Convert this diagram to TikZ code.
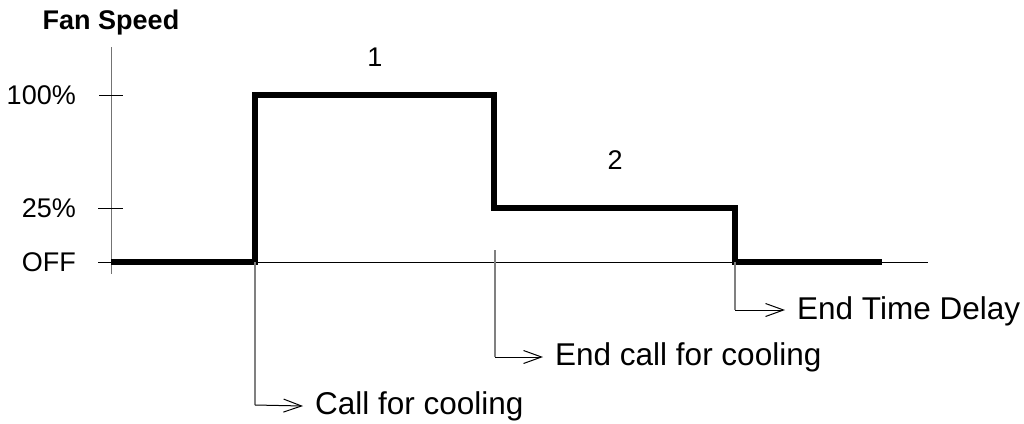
\documentclass[tikz,border=0pt]{standalone}
\usepackage{fontspec}
\setmainfont{Liberation Sans}
\usetikzlibrary{arrows.meta}
\begin{document}
\begin{tikzpicture}[x=1pt,y=-1pt,
  axisline/.style={line width=1pt,black!55},
  baseline/.style={line width=1pt,black},
  tickmark/.style={line width=1pt,black},
  speed/.style={line width=5.5pt,black,line join=miter},
  marker/.style={line width=1.3pt,black!50},
  pointer/.style={line width=1pt,black,-{Straight Barb[length=18pt,width=13pt,line width=1pt]}},
  lbl/.style={font=\fontsize{31.5}{36}\selectfont,anchor=west,inner sep=0pt},
  axlbl/.style={font=\fontsize{27}{32}\selectfont,anchor=east,inner sep=0pt},
  numlbl/.style={font=\fontsize{27}{32}\selectfont,inner sep=0pt}]
\useasboundingbox (0,0) rectangle (1024,423);
% axes
\coordinate (ytop) at (111,47);
\coordinate (ybot) at (111,274);
\coordinate (xl) at (98,262);
\coordinate (xr) at (928,262);
\draw[axisline] (ytop) -- (ybot);
\draw[baseline] (xl) -- (xr);
\coordinate (t1a) at (99,95);  \coordinate (t1b) at (123,95);
\coordinate (t2a) at (98,208); \coordinate (t2b) at (123,208);
\draw[tickmark] (t1a) -- (t1b);
\draw[tickmark] (t2a) -- (t2b);
% labels
\node[font=\bfseries\fontsize{27}{32}\selectfont,inner sep=0pt] (title) at (111,23) {Fan Speed};
\node[axlbl] (l100) at (76,95) {100\%};
\node[axlbl] (l25) at (76,208) {25\%};
\node[axlbl] (loff) at (76,262) {OFF};
\node[numlbl] (n1) at (375,57) {1};
\node[numlbl] (n2) at (615,160) {2};
% speed curve
\coordinate (s0) at (111,262);
\coordinate (s1) at (255,262);
\coordinate (s2) at (255,95);
\coordinate (s3) at (494,95);
\coordinate (s4) at (494,208);
\coordinate (s5) at (735,208);
\coordinate (s6) at (735,262);
\coordinate (s7) at (882,262);
\draw[speed] (s0) -- (s1) -- (s2) -- (s3) -- (s4) -- (s5) -- (s6) -- (s7);
% markers
\coordinate (m1top) at (255,262); \coordinate (m1) at (255,405);
\coordinate (m2top) at (495,250); \coordinate (m2) at (495,357);
\coordinate (m3top) at (735,262); \coordinate (m3) at (735,310);
\draw[marker] (m1top) -- (m1);
\draw[marker] (m2top) -- (m2);
\draw[marker] (m3top) -- (m3);
\node[lbl] (c1) at (315,406) {Call for cooling};
\node[lbl] (c2) at (555,357) {End call for cooling};
\node[lbl] (c3) at (797,311) {End Time Delay};
\draw[pointer] (m1) -- ([xshift=-12pt]c1.west);
\draw[pointer] (m2) -- ([xshift=-12pt]c2.west |- m2);
\draw[pointer] (m3) -- ([xshift=-12pt]c3.west |- m3);
\end{tikzpicture}
\end{document}
